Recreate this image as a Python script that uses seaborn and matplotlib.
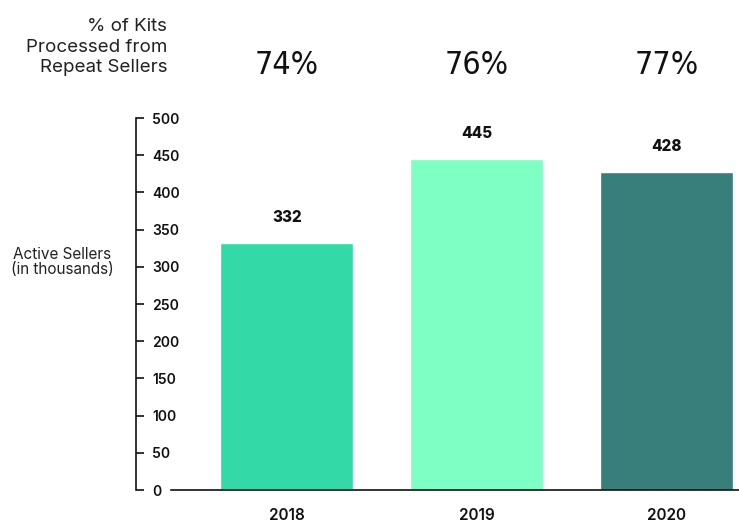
import matplotlib
matplotlib.use('Agg')
import matplotlib.pyplot as plt
import matplotlib.transforms as mtransforms
import seaborn as sns
import pandas as pd

# chart values
years = ['2018', '2019', '2020']
active_sellers = [332, 445, 428]
repeat_pct = ['74%', '76%', '77%']
bar_colors = ['#33d9a6', '#7effc4', '#387f7c']
y_ticks = [0, 50, 100, 150, 200, 250, 300, 350, 400, 450, 500]

sns.set_style('white')
plt.rcParams['font.family'] = ['Inter', 'DejaVu Sans']

df = pd.DataFrame({'year': years, 'sellers': active_sellers})

fig = plt.figure(figsize=(7.39, 5.22), dpi=100)
ax = fig.add_axes([171 / 739, 32 / 522, 568 / 739, 372 / 522])

sns.barplot(data=df, x='year', y='sellers', hue='year',
            palette=dict(zip(years, bar_colors)), saturation=1,
            width=0.7, legend=False, ax=ax)

# value labels above bars
for cont in ax.containers:
    ax.bar_label(cont, padding=13, fontsize=11, fontweight='heavy', color='#111111')

ax.set_xlim(-0.61, 2.38)
ax.set_ylim(0, 500)
ax.set_yticks(y_ticks)
ax.set_yticklabels([str(t) for t in y_ticks])

# spines
for s in ['top', 'right']:
    ax.spines[s].set_visible(False)
ax.spines['left'].set_position(('outward', 25))
ax.spines['left'].set_linewidth(1.2)
ax.spines['left'].set_color('#111111')
ax.spines['bottom'].set_linewidth(1.2)
ax.spines['bottom'].set_color('#111111')

ax.tick_params(axis='y', left=True, direction='in', length=6, width=1.2, pad=-11.5,
               labelsize=10, colors='#111111')
for lab in ax.get_yticklabels():
    lab.set_fontweight('semibold')
    lab.set_horizontalalignment('left')
ax.tick_params(axis='x', bottom=False, length=0, pad=13, labelsize=11, colors='#111111')
for lab in ax.get_xticklabels():
    lab.set_fontweight('semibold')

ax.set_xlabel('')
ax.set_ylabel('Active Sellers\n(in thousands)', rotation=0, ha='center', va='center',
              fontsize=11, color='#222222', linespacing=0.95)
ax.yaxis.set_label_coords(-0.192, 0.613)

# repeat-seller percentages over each bar
trans = mtransforms.blended_transform_factory(ax.transData, ax.transAxes)
for i, p in enumerate(repeat_pct):
    ax.text(i, 1.14, p, transform=trans, ha='center', va='center',
            fontsize=23, color='#111111', fontstretch='extra-condensed',
            family=['Liberation Sans Narrow', 'DejaVu Sans'])

fig.text(167 / 739, 1 - 47 / 522, '% of Kits\nProcessed from\nRepeat Sellers',
         ha='right', va='center', fontsize=13.5, color='#222222', linespacing=1.3)

plt.savefig('out.png', dpi=100)
